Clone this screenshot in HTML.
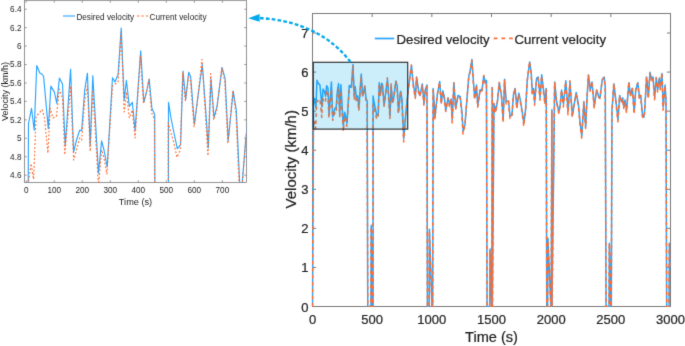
<!DOCTYPE html>
<html><head><meta charset="utf-8"><style>
html,body{margin:0;padding:0;background:#fff;width:685px;height:346px;overflow:hidden;}
svg{display:block;} .b text,text.b{stroke:#1e1e1e;stroke-width:0.22px;}
</style></head><body>
<svg width="685" height="346" viewBox="0 0 685 346">
<defs><clipPath id="ci"><rect x="24.50" y="0.50" width="222.00" height="182.00"/></clipPath>
<clipPath id="cm"><rect x="311.50" y="13.50" width="359.00" height="293.60"/></clipPath></defs>
<filter id="bl" color-interpolation-filters="sRGB" x="-5%" y="-5%" width="110%" height="110%"><feConvolveMatrix order="3" kernelMatrix="0.0114 0.084 0.0114 0.084 0.618 0.084 0.0114 0.084 0.0114" edgeMode="duplicate" preserveAlpha="false"/></filter>
<rect width="685" height="346" fill="#fff"/>
<g filter="url(#bl)">
<g stroke="#7a7a7a" stroke-width="0.8" fill="none">
<rect x="24.50" y="0.50" width="222.00" height="182.00"/>
<line x1="26.20" y1="182.50" x2="26.20" y2="180.30"/>
<line x1="26.20" y1="0.50" x2="26.20" y2="2.70"/>
<line x1="54.22" y1="182.50" x2="54.22" y2="180.30"/>
<line x1="54.22" y1="0.50" x2="54.22" y2="2.70"/>
<line x1="82.25" y1="182.50" x2="82.25" y2="180.30"/>
<line x1="82.25" y1="0.50" x2="82.25" y2="2.70"/>
<line x1="110.28" y1="182.50" x2="110.28" y2="180.30"/>
<line x1="110.28" y1="0.50" x2="110.28" y2="2.70"/>
<line x1="138.30" y1="182.50" x2="138.30" y2="180.30"/>
<line x1="138.30" y1="0.50" x2="138.30" y2="2.70"/>
<line x1="166.32" y1="182.50" x2="166.32" y2="180.30"/>
<line x1="166.32" y1="0.50" x2="166.32" y2="2.70"/>
<line x1="194.35" y1="182.50" x2="194.35" y2="180.30"/>
<line x1="194.35" y1="0.50" x2="194.35" y2="2.70"/>
<line x1="222.38" y1="182.50" x2="222.38" y2="180.30"/>
<line x1="222.38" y1="0.50" x2="222.38" y2="2.70"/>
<line x1="24.50" y1="175.16" x2="26.70" y2="175.16"/>
<line x1="246.50" y1="175.16" x2="244.30" y2="175.16"/>
<line x1="24.50" y1="156.72" x2="26.70" y2="156.72"/>
<line x1="246.50" y1="156.72" x2="244.30" y2="156.72"/>
<line x1="24.50" y1="138.28" x2="26.70" y2="138.28"/>
<line x1="246.50" y1="138.28" x2="244.30" y2="138.28"/>
<line x1="24.50" y1="119.84" x2="26.70" y2="119.84"/>
<line x1="246.50" y1="119.84" x2="244.30" y2="119.84"/>
<line x1="24.50" y1="101.40" x2="26.70" y2="101.40"/>
<line x1="246.50" y1="101.40" x2="244.30" y2="101.40"/>
<line x1="24.50" y1="82.96" x2="26.70" y2="82.96"/>
<line x1="246.50" y1="82.96" x2="244.30" y2="82.96"/>
<line x1="24.50" y1="64.52" x2="26.70" y2="64.52"/>
<line x1="246.50" y1="64.52" x2="244.30" y2="64.52"/>
<line x1="24.50" y1="46.08" x2="26.70" y2="46.08"/>
<line x1="246.50" y1="46.08" x2="244.30" y2="46.08"/>
<line x1="24.50" y1="27.64" x2="26.70" y2="27.64"/>
<line x1="246.50" y1="27.64" x2="244.30" y2="27.64"/>
<line x1="24.50" y1="9.20" x2="26.70" y2="9.20"/>
<line x1="246.50" y1="9.20" x2="244.30" y2="9.20"/>
</g>
<g clip-path="url(#ci)" fill="none" stroke-linejoin="round">
<polyline points="26.20,599.28 28.50,123.50 31.50,108.30 34.20,130.30 36.75,65.50 39.80,73.00 42.20,74.30 43.60,76.50 48.30,128.60 50.90,86.10 54.40,92.10 56.80,103.30 59.40,78.10 62.50,84.00 65.20,146.00 70.60,69.20 73.60,152.20 76.50,140.00 79.70,130.20 81.70,130.60 84.70,90.10 87.40,73.20 90.20,146.00 92.80,75.70 98.50,173.20 101.60,140.80 104.00,150.00 107.20,167.00 112.50,77.70 115.00,82.00 118.10,74.30 121.20,28.10 124.20,100.20 126.40,80.30 129.30,106.30 132.30,102.30 135.10,130.60 140.70,50.80 143.80,102.30 146.50,92.00 149.20,79.10 151.90,108.30 154.70,114.40 155.96,599.28 163.52,599.28 164.08,407.50 166.32,562.40 166.89,599.28 168.37,599.28 168.50,102.30 171.00,118.00 174.00,133.00 177.30,148.70 180.60,144.80 183.00,71.00 185.70,99.20 188.70,72.20 190.70,76.70 194.40,124.50 197.50,100.00 202.30,64.50 205.00,100.00 208.30,147.80 211.00,78.70 214.00,117.40 217.00,106.30 222.10,67.60 225.10,78.70 228.20,140.70 233.20,91.10 236.30,110.40 240.59,202.82 245.64,140.80 251.65,82.23 258.70,30.32 262.46,71.14 267.86,103.94 270.68,57.69 274.90,87.66 278.66,101.35 284.06,73.97 288.05,120.46 291.11,87.66 295.10,76.57 296.08,599.28 300.28,599.28 300.84,416.72 306.45,590.06 307.29,599.28 308.41,599.28 309.66,84.83 313.89,153.03 319.52,98.52 324.92,68.55 328.68,119.05 332.20,90.26 335.73,104.10 339.25,136.75 344.65,106.78 348.41,123.06 351.70,109.37 354.52,158.46 358.27,71.14 362.50,131.32 367.90,101.35 373.30,103.94 377.30,142.17 379.88,185.83 384.34,169.55 388.10,120.46 393.50,54.86 396.32,44.00 400.55,16.63 404.30,71.14 407.12,106.78 411.35,76.57 414.40,125.89 419.80,87.66 424.03,90.26 428.49,54.86 432.25,71.14 434.83,65.71 436.21,599.28 442.37,599.28 443.21,463.75 446.57,590.06 447.42,599.28 448.45,82.23 448.68,599.28 452.45,120.46 456.67,136.75 460.78,113.98 464.89,71.14 470.29,103.94 474.05,158.46 477.34,63.12 481.10,114.80 486.50,114.80 490.26,150.43 494.72,147.60 498.24,98.52 502.00,84.83 506.23,128.49 510.69,95.92 514.45,112.20 518.20,136.75 522.67,166.72 526.89,131.32 530.65,65.71 536.29,22.06 540.04,49.43 542.63,95.92 545.45,84.83 548.03,117.63 552.49,60.29 556.25,57.69 560.71,106.78 564.47,52.26 568.70,87.66 572.45,117.63 575.27,84.83 576.33,599.28 578.29,599.28 579.13,437.93 585.58,590.06 586.70,599.28 588.42,134.86 588.66,599.28 595.00,69.49 599.46,115.74 604.86,140.29 608.03,123.13 611.20,88.37 615.66,121.41 621.07,66.66 626.47,137.69 630.93,69.49 636.33,148.55 640.09,126.60 645.49,94.03 650.89,123.77 654.77,166.04 658.64,197.63 663.57,115.74 667.80,175.68 671.09,104.11 674.38,52.97 678.60,88.37 682.60,69.49 688.00,126.60 693.40,88.37 698.80,104.89 701.38,106.78 706.78,63.12 711.25,57.69 713.83,82.23 715.62,599.28 722.62,599.28 723.46,449.92 726.83,599.28 727.95,599.28 729.56,136.75 734.03,73.97 738.25,109.37 743.66,158.46 747.65,101.35 751.41,114.80 754.69,106.78 757.28,128.49 760.09,112.20 763.85,136.75 769.25,71.14 773.01,101.35 777.47,84.83 781.70,139.34 785.46,87.66 790.16,71.14 794.38,106.78 797.20,101.35 800.96,145.01 804.25,153.03 806.36,136.75 810.82,57.69 815.05,103.94 818.81,46.60 822.56,63.12 825.85,57.69 829.84,106.78 833.60,60.29 836.89,87.66 840.65,60.29 843.23,82.23 846.99,49.43 849.81,128.49 854.27,76.57 856.38,111.97 857.98,599.28 863.59,599.28 864.43,449.92 866.95,507.08" stroke="#28a4ff" stroke-width="1.15"/>
<polyline points="26.20,599.28 28.40,182.00 29.50,175.00 31.00,163.50 33.60,179.30 36.10,116.00 38.50,114.00 42.20,109.40 44.50,118.00 47.90,153.00 50.30,108.30 53.00,118.00 56.40,116.40 59.40,89.10 62.50,98.00 64.80,154.80 70.60,86.00 73.60,160.00 79.70,138.00 81.70,140.00 84.70,100.00 87.40,86.00 90.20,151.30 92.80,90.00 98.50,186.00 101.60,150.00 104.00,158.00 106.90,174.00 112.50,86.00 118.10,82.00 121.20,32.00 124.20,112.00 126.40,92.00 129.30,118.00 132.30,110.00 135.10,138.00 140.36,55.41 143.46,103.87 146.16,92.95 148.86,79.66 151.56,112.67 154.36,118.66 155.96,599.28 163.52,599.28 163.75,411.44 166.32,562.40 166.89,599.28 168.37,619.48 168.16,122.50 170.66,131.83 173.66,142.22 176.96,157.40 180.26,149.94 182.66,72.84 185.36,101.42 188.36,76.94 190.36,79.99 194.06,126.80 197.16,103.21 201.96,59.43 204.66,103.03 207.96,155.85 210.66,73.63 213.66,119.87 216.66,111.03 221.76,67.60 224.76,81.12 227.86,143.69 232.86,90.72 235.96,113.45 240.25,210.85 245.30,145.69 251.32,87.27 258.36,29.12 262.12,75.89 267.52,108.36 270.34,58.84 274.57,92.55 278.32,103.86 283.73,76.93 287.72,124.42 290.77,92.01 294.76,79.77 296.08,599.28 300.28,599.28 300.51,421.08 306.45,590.06 307.29,599.28 308.41,599.28 309.32,88.87 313.55,156.26 319.19,98.99 324.59,70.38 328.35,121.67 331.87,93.56 335.39,106.98 338.91,139.12 344.32,107.60 348.07,128.79 351.36,107.86 354.18,166.22 357.94,71.56 362.16,134.83 367.57,104.25 372.97,106.95 376.96,147.16 379.54,192.36 384.00,172.68 387.76,125.06 393.16,55.70 395.98,47.89 400.21,17.61 403.97,71.84 406.78,111.28 411.01,76.93 414.06,128.82 419.47,91.16 423.69,95.89 428.16,54.07 431.91,72.69 434.50,69.87 436.21,599.28 442.37,599.28 442.88,468.23 446.57,590.06 447.42,599.28 448.12,83.67 448.68,599.28 452.11,120.79 456.34,142.17 460.45,114.76 464.56,69.90 469.96,105.59 473.72,165.40 477.00,64.40 480.76,121.41 486.16,114.11 489.92,155.61 494.38,150.39 497.90,101.74 501.66,84.37 505.89,132.62 510.35,98.61 514.11,116.56 517.87,138.16 522.33,173.50 526.56,136.34 530.31,67.60 535.95,21.10 539.71,51.09 542.29,101.34 545.11,84.19 547.69,124.29 552.15,64.36 555.91,60.44 560.37,112.43 564.13,55.21 568.36,92.35 572.12,122.69 574.93,87.20 576.33,599.28 578.29,599.28 578.80,442.73 585.58,590.06 586.70,599.28 588.09,138.39 588.66,599.28 594.66,70.09 599.12,116.39 604.53,143.23 607.70,125.27 610.87,88.97 615.33,128.36 620.73,68.85 626.13,146.60 630.59,66.31 635.99,152.72 639.75,127.07 645.15,97.89 650.56,125.47 654.43,169.17 658.30,201.96 663.24,115.97 667.46,178.98 670.75,108.72 674.04,53.32 678.27,91.18 682.26,68.14 687.66,130.44 693.06,88.64 698.46,106.40 701.05,108.38 706.45,65.75 710.91,58.68 713.49,82.78 715.62,599.28 722.62,599.28 723.13,450.63 726.83,599.28 727.95,599.28 729.23,139.97 733.69,72.68 737.92,109.78 743.32,163.47 747.31,101.66 751.07,118.75 754.36,108.34 756.94,131.60 759.76,116.27 763.52,140.99 768.92,68.78 772.68,103.18 777.14,84.56 781.36,145.38 785.12,88.25 789.82,72.16 794.05,110.90 796.86,101.02 800.62,150.96 803.91,155.02 806.02,143.68 810.49,56.76 814.71,109.41 818.47,49.01 822.23,65.34 825.52,59.11 829.51,111.30 833.27,58.88 836.55,93.15 840.31,64.52 842.89,87.47 846.65,48.42 849.47,136.17 853.93,78.98 856.05,112.49 857.98,599.28 863.59,599.28 864.09,451.80 866.95,507.08" stroke="#ff6b30" stroke-width="1.15" stroke-dasharray="1.8 2.0"/>
</g>
<g font-family="Liberation Sans, sans-serif" fill="#1e1e1e" font-size="8.2">
<text x="26.20" y="193.4" text-anchor="middle">0</text>
<text x="54.22" y="193.4" text-anchor="middle">100</text>
<text x="82.25" y="193.4" text-anchor="middle">200</text>
<text x="110.28" y="193.4" text-anchor="middle">300</text>
<text x="138.30" y="193.4" text-anchor="middle">400</text>
<text x="166.32" y="193.4" text-anchor="middle">500</text>
<text x="194.35" y="193.4" text-anchor="middle">600</text>
<text x="222.38" y="193.4" text-anchor="middle">700</text>
<text x="21.5" y="178.06" text-anchor="end">4.6</text>
<text x="21.5" y="159.62" text-anchor="end">4.8</text>
<text x="21.5" y="141.18" text-anchor="end">5</text>
<text x="21.5" y="122.74" text-anchor="end">5.2</text>
<text x="21.5" y="104.30" text-anchor="end">5.4</text>
<text x="21.5" y="85.86" text-anchor="end">5.6</text>
<text x="21.5" y="67.42" text-anchor="end">5.8</text>
<text x="21.5" y="48.98" text-anchor="end">6</text>
<text x="21.5" y="30.54" text-anchor="end">6.2</text>
<text x="21.5" y="12.10" text-anchor="end">6.4</text>
</g>
<text x="135.5" y="204.8" text-anchor="middle" font-family="Liberation Sans, sans-serif" font-size="9.2" fill="#1e1e1e">Time (s)</text>
<text transform="translate(7.6,91.6) rotate(-90)" text-anchor="middle" font-family="Liberation Sans, sans-serif" font-size="9" fill="#1e1e1e">Velocity (km/h)</text>
<line x1="63" y1="16" x2="75.1" y2="16" stroke="#28a4ff" stroke-width="1.1"/>
<text x="76.4" y="19.8" font-family="Liberation Sans, sans-serif" font-size="8.2" fill="#1e1e1e">Desired velocity</text>
<line x1="137" y1="16" x2="148.5" y2="16" stroke="#ff6b30" stroke-width="1.2" stroke-dasharray="2.4 2.0"/>
<text x="149.6" y="19.8" font-family="Liberation Sans, sans-serif" font-size="8.2" fill="#1e1e1e">Current velocity</text>
<g stroke="#7a7a7a" stroke-width="1" fill="none">
<rect x="312.50" y="13.50" width="358.00" height="293.00"/>
<line x1="312.50" y1="306.50" x2="312.50" y2="302.90"/>
<line x1="312.50" y1="13.50" x2="312.50" y2="17.10"/>
<line x1="372.17" y1="306.50" x2="372.17" y2="302.90"/>
<line x1="372.17" y1="13.50" x2="372.17" y2="17.10"/>
<line x1="431.83" y1="306.50" x2="431.83" y2="302.90"/>
<line x1="431.83" y1="13.50" x2="431.83" y2="17.10"/>
<line x1="491.50" y1="306.50" x2="491.50" y2="302.90"/>
<line x1="491.50" y1="13.50" x2="491.50" y2="17.10"/>
<line x1="551.17" y1="306.50" x2="551.17" y2="302.90"/>
<line x1="551.17" y1="13.50" x2="551.17" y2="17.10"/>
<line x1="610.83" y1="306.50" x2="610.83" y2="302.90"/>
<line x1="610.83" y1="13.50" x2="610.83" y2="17.10"/>
<line x1="670.50" y1="306.50" x2="670.50" y2="302.90"/>
<line x1="670.50" y1="13.50" x2="670.50" y2="17.10"/>
<line x1="312.50" y1="306.50" x2="316.10" y2="306.50"/>
<line x1="670.50" y1="306.50" x2="666.90" y2="306.50"/>
<line x1="312.50" y1="267.43" x2="316.10" y2="267.43"/>
<line x1="670.50" y1="267.43" x2="666.90" y2="267.43"/>
<line x1="312.50" y1="228.36" x2="316.10" y2="228.36"/>
<line x1="670.50" y1="228.36" x2="666.90" y2="228.36"/>
<line x1="312.50" y1="189.29" x2="316.10" y2="189.29"/>
<line x1="670.50" y1="189.29" x2="666.90" y2="189.29"/>
<line x1="312.50" y1="150.22" x2="316.10" y2="150.22"/>
<line x1="670.50" y1="150.22" x2="666.90" y2="150.22"/>
<line x1="312.50" y1="111.15" x2="316.10" y2="111.15"/>
<line x1="670.50" y1="111.15" x2="666.90" y2="111.15"/>
<line x1="312.50" y1="72.08" x2="316.10" y2="72.08"/>
<line x1="670.50" y1="72.08" x2="666.90" y2="72.08"/>
<line x1="312.50" y1="33.01" x2="316.10" y2="33.01"/>
<line x1="670.50" y1="33.01" x2="666.90" y2="33.01"/>
</g>
<g clip-path="url(#cm)" fill="none" stroke-linejoin="round">
<polyline points="312.50,306.50 313.48,104.89 314.76,98.45 315.91,107.77 316.99,80.31 318.29,83.49 319.31,84.04 319.91,84.97 321.91,107.05 323.02,89.04 324.51,91.58 325.53,96.33 326.64,85.65 327.96,88.15 329.11,114.42 331.41,81.88 332.68,117.05 333.92,111.88 335.28,107.73 336.13,107.90 337.41,90.73 338.56,83.57 339.75,114.42 340.86,84.63 343.29,125.95 344.61,112.22 345.63,116.12 346.99,123.32 349.25,85.48 350.31,87.30 351.63,84.04 352.95,64.46 354.23,95.01 355.17,86.58 356.40,97.60 357.68,95.90 358.87,107.90 361.26,74.08 362.58,95.90 363.72,91.54 364.87,86.07 366.02,98.45 367.22,101.03 367.75,306.50 370.97,306.50 371.21,225.23 372.17,290.87 372.41,306.50 373.04,306.50 373.09,95.90 374.16,102.56 375.43,108.91 376.84,115.57 378.25,113.91 379.27,82.64 380.42,94.59 381.69,83.15 382.55,85.06 384.12,105.31 385.44,94.93 387.49,79.89 388.63,94.93 390.04,115.18 391.19,85.90 392.47,102.30 393.74,97.60 395.92,81.20 397.19,85.90 398.51,112.18 400.64,91.16 401.96,99.34 403.79,138.50 405.94,112.22 408.50,87.40 411.50,65.40 413.10,82.70 415.40,96.60 416.60,77.00 418.40,89.70 420.00,95.50 422.30,83.90 424.00,103.60 425.30,89.70 427.00,85.00 427.42,306.50 429.21,306.50 429.45,229.14 431.83,302.59 432.19,306.50 432.67,306.50 433.20,88.50 435.00,117.40 437.40,94.30 439.70,81.60 441.30,103.00 442.80,90.80 444.30,96.67 445.80,110.50 448.10,97.80 449.70,104.70 451.10,98.90 452.30,119.70 453.90,82.70 455.70,108.20 458.00,95.50 460.30,96.60 462.00,112.80 463.10,131.30 465.00,124.40 466.60,103.60 468.90,75.80 470.10,71.20 471.90,59.60 473.50,82.70 474.70,97.80 476.50,85.00 477.80,105.90 480.10,89.70 481.90,90.80 483.80,75.80 485.40,82.70 486.50,80.40 487.08,306.50 489.71,306.50 490.07,249.07 491.50,302.59 491.86,306.50 492.30,87.40 492.39,306.50 494.00,103.60 495.80,110.50 497.55,100.85 499.30,82.70 501.60,96.60 503.20,119.70 504.60,79.30 506.20,101.20 508.50,101.20 510.10,116.30 512.00,115.10 513.50,94.30 515.10,88.50 516.90,107.00 518.80,93.20 520.40,100.10 522.00,110.50 523.90,123.20 525.70,108.20 527.30,80.40 529.70,61.90 531.30,73.50 532.40,93.20 533.60,88.50 534.70,102.40 536.60,78.10 538.20,77.00 540.10,97.80 541.70,74.70 543.50,89.70 545.10,102.40 546.30,88.50 546.75,306.50 547.59,306.50 547.94,238.13 550.69,302.59 551.17,306.50 551.90,109.70 552.00,306.50 554.70,82.00 556.60,101.60 558.90,112.00 560.25,104.73 561.60,90.00 563.50,104.00 565.80,80.80 568.10,110.90 570.00,82.00 572.30,115.50 573.90,106.20 576.20,92.40 578.50,105.00 580.15,122.91 581.80,136.30 583.90,101.60 585.70,127.00 587.10,96.67 588.50,75.00 590.30,90.00 592.00,82.00 594.30,106.20 596.60,90.00 598.90,97.00 600.00,97.80 602.30,79.30 604.20,77.00 605.30,87.40 606.06,306.50 609.04,306.50 609.40,243.21 610.83,306.50 611.31,306.50 612.00,110.50 613.90,83.90 615.70,98.90 618.00,119.70 619.70,95.50 621.30,101.20 622.70,97.80 623.80,107.00 625.00,100.10 626.60,110.50 628.90,82.70 630.50,95.50 632.40,88.50 634.20,111.60 635.80,89.70 637.80,82.70 639.60,97.80 640.80,95.50 642.40,114.00 643.80,117.40 644.70,110.50 646.60,77.00 648.40,96.60 650.00,72.30 651.60,79.30 653.00,77.00 654.70,97.80 656.30,78.10 657.70,89.70 659.30,78.10 660.40,87.40 662.00,73.50 663.20,107.00 665.10,85.00 666.00,100.00 666.68,306.50 669.07,306.50 669.43,243.21 670.50,267.43" stroke="#28a4ff" stroke-width="1.5"/>
<polyline points="312.50,306.50 313.44,129.68 313.91,126.71 314.54,121.84 315.65,128.53 316.72,101.71 317.74,100.86 319.31,98.91 320.29,102.56 321.74,117.39 322.76,98.45 323.91,102.56 325.36,101.88 326.64,90.31 327.96,94.08 328.94,118.15 331.41,89.00 332.68,120.35 335.28,111.03 336.13,111.88 337.41,94.93 338.56,89.00 339.75,116.67 340.86,90.69 343.29,131.37 344.61,116.12 345.63,119.51 346.86,126.29 349.25,89.00 351.63,87.30 352.95,66.11 354.23,100.01 355.17,91.54 356.40,102.56 357.68,99.17 358.87,111.03 361.11,76.03 362.43,96.57 363.58,91.94 364.73,86.31 365.88,100.30 367.07,102.84 367.75,306.50 370.97,306.50 371.07,226.90 372.17,290.87 372.41,306.50 373.04,315.06 372.95,104.46 374.01,108.42 375.29,112.82 376.70,119.25 378.10,116.09 379.12,83.42 380.27,95.53 381.55,85.16 382.40,86.45 383.98,106.29 385.30,96.29 387.34,77.74 388.49,96.21 389.90,118.60 391.05,83.75 392.32,103.35 393.60,99.60 395.77,81.20 397.05,86.93 398.37,113.44 400.50,90.99 401.82,100.63 403.65,141.90 405.79,114.29 408.36,89.53 411.36,64.89 412.96,84.71 415.26,98.47 416.46,77.49 418.26,91.77 419.86,96.56 422.16,85.15 423.86,105.28 425.16,91.54 426.86,86.36 427.42,306.50 429.21,306.50 429.30,230.99 431.83,302.59 432.19,306.50 432.67,306.50 433.06,90.21 434.86,118.77 437.26,94.50 439.56,82.38 441.16,104.11 442.66,92.20 444.16,97.89 445.66,111.50 447.96,98.15 449.56,107.13 450.96,98.26 452.16,122.99 453.76,82.88 455.56,109.69 457.86,96.73 460.16,97.87 461.86,114.91 462.96,134.07 464.86,125.73 466.46,105.55 468.76,76.15 469.96,72.85 471.76,60.01 473.36,83.00 474.56,99.71 476.36,85.15 477.66,107.14 479.96,91.18 481.76,93.19 483.66,75.47 485.26,83.36 486.36,82.16 487.08,306.50 489.71,306.50 489.92,250.97 491.50,302.59 491.86,306.50 492.16,88.01 492.39,306.50 493.86,103.74 495.66,112.80 497.41,101.18 499.16,82.17 501.46,97.30 503.06,122.64 504.46,79.84 506.06,104.00 508.36,100.91 509.96,118.49 511.86,116.28 513.36,95.67 514.96,88.31 516.76,108.75 518.66,94.34 520.26,101.95 521.86,111.10 523.76,126.08 525.56,110.33 527.16,81.20 529.56,61.49 531.16,74.20 532.26,95.50 533.46,88.23 534.56,105.22 536.46,79.83 538.06,78.17 539.96,100.20 541.56,75.95 543.36,91.69 544.96,104.54 546.16,89.50 546.75,306.50 547.59,306.50 547.80,240.16 550.69,302.59 551.17,306.50 551.76,111.20 552.00,306.50 554.56,82.26 556.46,101.88 558.76,113.25 560.11,105.64 561.46,90.26 563.36,106.95 565.66,81.73 567.96,114.68 569.86,80.65 572.16,117.27 573.76,106.40 576.06,94.03 578.36,105.72 580.01,124.24 581.66,138.13 583.76,101.69 585.56,128.39 586.96,98.62 588.36,75.15 590.16,91.19 591.86,81.43 594.16,107.83 596.46,90.11 598.76,97.64 599.86,98.48 602.16,80.41 604.06,77.42 605.16,87.63 606.06,306.50 609.04,306.50 609.26,243.51 610.83,306.50 611.31,306.50 611.86,111.87 613.76,83.35 615.56,99.08 617.86,121.83 619.56,95.63 621.16,102.88 622.56,98.46 623.66,108.32 624.86,101.82 626.46,112.30 628.76,81.70 630.36,96.28 632.26,88.38 634.06,114.16 635.66,89.95 637.66,83.13 639.46,99.55 640.66,95.36 642.26,116.53 643.66,118.24 644.56,113.44 646.46,76.61 648.26,98.91 649.86,73.32 651.46,80.24 652.86,77.60 654.56,99.72 656.16,77.50 657.56,92.02 659.16,79.90 660.26,89.62 661.86,73.07 663.06,110.26 664.96,86.02 665.86,100.22 666.68,306.50 669.07,306.50 669.28,244.00 670.50,267.43" stroke="#ff6b30" stroke-width="1.5" stroke-dasharray="3.8 3.2"/>
</g>
<g class="b" font-family="Liberation Sans, sans-serif" fill="#1e1e1e" font-size="13">
<text x="312.50" y="324" text-anchor="middle">0</text>
<text x="372.17" y="324" text-anchor="middle">500</text>
<text x="431.83" y="324" text-anchor="middle">1000</text>
<text x="491.50" y="324" text-anchor="middle">1500</text>
<text x="551.17" y="324" text-anchor="middle">2000</text>
<text x="610.83" y="324" text-anchor="middle">2500</text>
<text x="670.50" y="324" text-anchor="middle">3000</text>
<text x="308.6" y="311.50" text-anchor="end">0</text>
<text x="308.6" y="272.43" text-anchor="end">1</text>
<text x="308.6" y="233.36" text-anchor="end">2</text>
<text x="308.6" y="194.29" text-anchor="end">3</text>
<text x="308.6" y="155.22" text-anchor="end">4</text>
<text x="308.6" y="116.15" text-anchor="end">5</text>
<text x="308.6" y="77.08" text-anchor="end">6</text>
<text x="308.6" y="38.01" text-anchor="end">7</text>
</g>
<text class="b" x="491.5" y="341.7" text-anchor="middle" font-family="Liberation Sans, sans-serif" font-size="14.6" fill="#1e1e1e">Time (s)</text>
<text class="b" transform="translate(296.4,159.3) rotate(-90)" text-anchor="middle" font-family="Liberation Sans, sans-serif" font-size="15" fill="#1e1e1e">Velocity (km/h)</text>
<rect x="313.3" y="62.3" width="94.4" height="66.8" fill="rgb(0,170,230)" fill-opacity="0.2" stroke="#333" stroke-width="1.2"/>
<line x1="374.8" y1="38.5" x2="394.2" y2="38.5" stroke="#28a4ff" stroke-width="1.7"/>
<text class="b" x="396.6" y="43.8" font-family="Liberation Sans, sans-serif" font-size="13.2" fill="#1e1e1e">Desired velocity</text>
<line x1="493.8" y1="38.4" x2="513.3" y2="38.4" stroke="#ff6b30" stroke-width="1.7" stroke-dasharray="3.6 4.1"/>
<text class="b" x="514.4" y="43.8" font-family="Liberation Sans, sans-serif" font-size="13.2" fill="#1e1e1e">Current velocity</text>
<path d="M350.5,62 Q320,22 260,18" fill="none" stroke="#00a8ec" stroke-width="2.3" stroke-dasharray="3.7 2.2"/>
<path d="M248.3,18.3 L259.6,14 L259.6,21.8 Z" fill="#00a8ec"/>
</g>
</svg>
</body></html>
